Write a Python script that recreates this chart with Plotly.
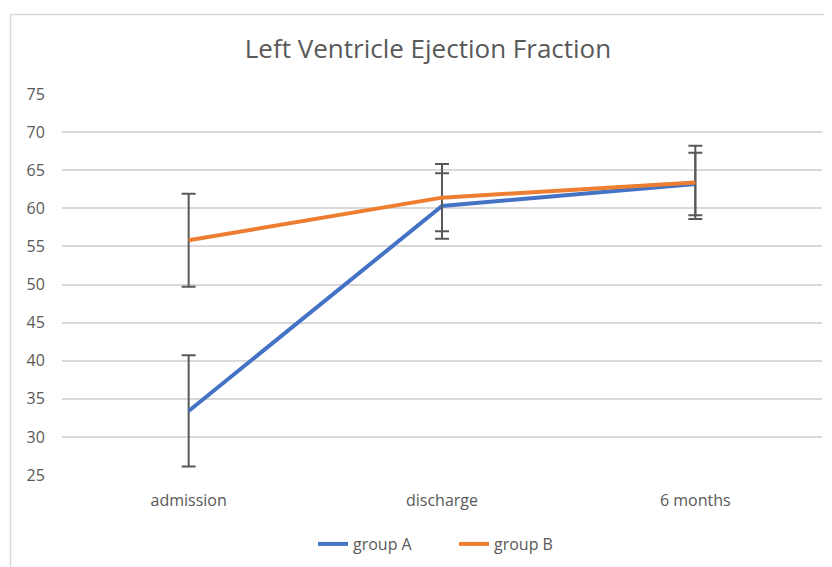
import plotly.graph_objects as go

categories = ["admission", "discharge", "6 months"]
group_a = [33.4, 60.3, 63.2]
group_a_err = [7.3, 4.3, 4.1]
group_b = [55.8, 61.4, 63.4]
group_b_err = [6.1, 4.4, 4.8]
y_ticks = [25, 30, 35, 40, 45, 50, 55, 60, 65, 70, 75]

FONT = "Open Sans"
GRAY = "#595959"

fig = go.Figure()
fig.add_trace(go.Scatter(
    x=categories, y=group_a, name="group A", mode="lines",
    line=dict(color="#4472C4", width=4),
    error_y=dict(type="data", array=group_a_err, visible=True,
                 color=GRAY, thickness=2, width=7),
))
fig.add_trace(go.Scatter(
    x=categories, y=group_b, name="group B", mode="lines",
    line=dict(color="#ED7D31", width=4),
    error_y=dict(type="data", array=group_b_err, visible=True,
                 color=GRAY, thickness=2, width=7),
))

# page body has an 8px margin; lay out in reference-pixel coordinates
OFF = 8
W, H = 832 - OFF, 567 - OFF
L, T = 62 - OFF, 94 - OFF
R = W - (822 - OFF)
B = H - (475 - OFF)
pw, ph = W - L - R, H - T - B

def px_to_paper_x(px):
    return (px - OFF - L) / pw

def px_to_paper_y(py):
    return (H - B - (py - OFF)) / ph

fig.update_layout(
    width=W, height=H,
    margin=dict(l=L, r=R, t=T, b=B, autoexpand=False),
    paper_bgcolor="white", plot_bgcolor="white",
    font=dict(family=FONT, color=GRAY, size=16),
    title=dict(text="Left Ventricle Ejection Fraction",
               x=(428 - OFF) / W, xanchor="center",
               y=1 - (49 - OFF) / H, yanchor="middle",
               font=dict(family=FONT, size=26, color=GRAY)),
    xaxis=dict(range=[-0.5, 2.5], showgrid=False, showline=False, zeroline=False,
               automargin=False,
               ticks="outside", ticklen=11, tickcolor="rgba(0,0,0,0)",
               tickfont=dict(size=16, color=GRAY)),
    yaxis=dict(range=[25, 75], tickvals=y_ticks, showgrid=True, automargin=False,
               gridcolor="#d9d9d9", gridwidth=1.5, zeroline=False, showline=False,
               ticks="outside", ticklen=13, tickcolor="rgba(0,0,0,0)",
               tickfont=dict(size=16, color=GRAY)),
    legend=dict(orientation="h", x=px_to_paper_x(313), xanchor="left",
                y=px_to_paper_y(544), yanchor="middle",
                font=dict(size=16, color=GRAY), itemwidth=30,
                entrywidth=96, entrywidthmode="pixels",
                tracegroupgap=0),
    showlegend=True,
    shapes=[dict(type="rect", xref="paper", yref="paper",
                 x0=px_to_paper_x(10.5), x1=px_to_paper_x(850),
                 y0=px_to_paper_y(14.5), y1=px_to_paper_y(600),
                 line=dict(color="#d9d9d9", width=1.5),
                 fillcolor="rgba(0,0,0,0)", layer="below")],
)

fig.write_html("out.html")
